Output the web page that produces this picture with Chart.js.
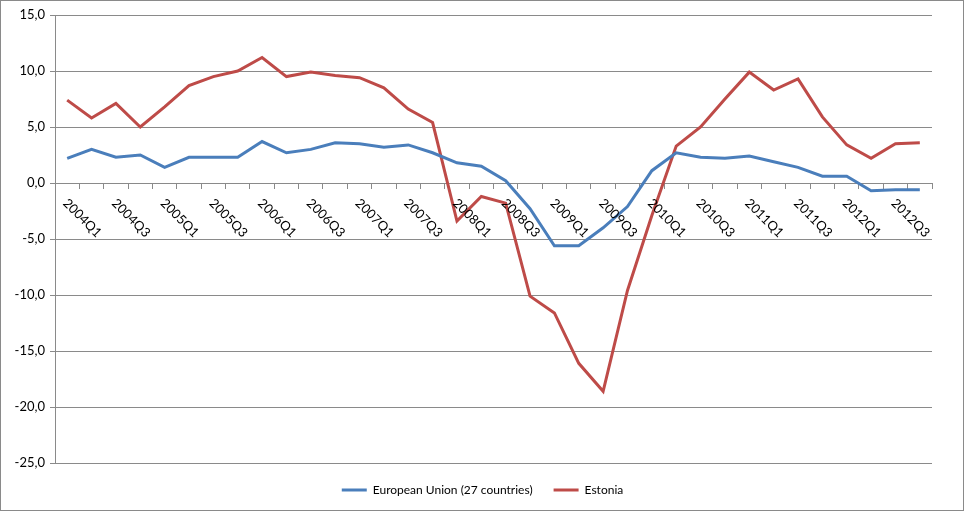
<!DOCTYPE html>
<html>
<head>
<meta charset="utf-8">
<script src="https://cdn.jsdelivr.net/npm/chart.js@4"></script>
<style>
  html, body { margin: 0; padding: 0; background: #fff; }
  #wrap { position: relative; width: 965px; height: 512px; }
</style>
</head>
<body>
<div id="wrap"><canvas id="myChart" width="965" height="512"></canvas></div>
<script>
// Trimestres 2004Q1 .. 2012Q4
var quarters = [
  '2004Q1','2004Q2','2004Q3','2004Q4','2005Q1','2005Q2','2005Q3','2005Q4',
  '2006Q1','2006Q2','2006Q3','2006Q4','2007Q1','2007Q2','2007Q3','2007Q4',
  '2008Q1','2008Q2','2008Q3','2008Q4','2009Q1','2009Q2','2009Q3','2009Q4',
  '2010Q1','2010Q2','2010Q3','2010Q4','2011Q1','2011Q2','2011Q3','2011Q4',
  '2012Q1','2012Q2','2012Q3','2012Q4'
];

var euValues = [2.2, 3.0, 2.3, 2.5, 1.4, 2.3, 2.3, 2.3, 3.7, 2.7, 3.0, 3.6,
  3.5, 3.2, 3.4, 2.7, 1.8, 1.5, 0.2, -2.3, -5.6, -5.6, -4.0, -2.1,
  1.1, 2.7, 2.3, 2.2, 2.4, 1.9, 1.4, 0.6, 0.6, -0.7, -0.6, -0.6];

var estoniaValues = [7.4, 5.8, 7.1, 5.0, 6.8, 8.7, 9.5, 10.0, 11.2, 9.5, 9.9, 9.6,
  9.4, 8.5, 6.6, 5.4, -3.4, -1.2, -1.8, -10.1, -11.6, -16.1, -18.6, -9.6,
  -2.9, 3.3, 5.0, 7.5, 9.9, 8.3, 9.3, 5.9, 3.4, 2.2, 3.5, 3.6];

var seriesNames = ['European Union (27 countries)', 'Estonia'];
var yMin = -25, yMax = 15, yStep = 5;

var fontFamily = 'Lato, "Open Sans", sans-serif';
var gridColor = '#8a8a8a';

// Etiquetas del eje x giradas 45 grados (cada dos trimestres) y marco exterior
var xLabelPlugin = {
  id: 'xLabels',
  afterDraw: function (chart) {
    var ctx = chart.ctx;
    var x = chart.scales.x;
    var y = chart.scales.y;
    var y0 = y.getPixelForValue(0);
    ctx.save();
    ctx.font = '13px ' + fontFamily;
    ctx.fillStyle = '#000';
    ctx.textAlign = 'left';
    ctx.textBaseline = 'middle';
    quarters.forEach(function (q, i) {
      if (i % 2) return;
      var px = x.getPixelForValue(i);
      ctx.save();
      ctx.translate(px - 2, y0 + 18);
      ctx.rotate(Math.PI / 4);
      ctx.fillText(q, 0, 0);
      ctx.restore();
    });
    ctx.strokeStyle = '#8a8a8a';
    ctx.lineWidth = 1;
    ctx.strokeRect(0.5, 0.5, 963, 510);
    ctx.restore();
  }
};

var ctx = document.getElementById('myChart').getContext('2d');
var myChart = new Chart(ctx, {
  type: 'line',
  data: {
    labels: quarters,
    datasets: [{
      label: seriesNames[0],
      data: euValues,
      borderColor: '#4a7ebb',
      backgroundColor: '#4a7ebb',
      borderWidth: 3,
      pointRadius: 0,
      tension: 0
    }, {
      label: seriesNames[1],
      data: estoniaValues,
      borderColor: '#be4b48',
      backgroundColor: '#be4b48',
      borderWidth: 3,
      pointRadius: 0,
      tension: 0
    }]
  },
  options: {
    responsive: false,
    animation: false,
    events: [],
    layout: { padding: { left: 0, right: 0, top: 15, bottom: 6 } },
    plugins: {
      tooltip: { enabled: false },
      legend: {
        position: 'bottom',
        labels: {
          boxWidth: 25,
          boxHeight: 3,
          padding: 21,
          color: '#000',
          font: { family: fontFamily, size: 12 },
          generateLabels: function (chart) {
            return chart.data.datasets.map(function (ds, i) {
              return {
                text: ds.label,
                fillStyle: ds.borderColor,
                strokeStyle: ds.borderColor,
                lineWidth: 0,
                hidden: false,
                datasetIndex: i
              };
            });
          }
        }
      }
    },
    scales: {
      x: {
        type: 'category',
        position: { y: 0 },
        offset: true,
        grid: {
          offset: true,
          drawOnChartArea: false,
          drawTicks: true,
          tickLength: 5,
          color: gridColor
        },
        border: { display: true, color: gridColor },
        ticks: { display: false, autoSkip: false }
      },
      y: {
        min: yMin,
        max: yMax,
        afterFit: function (scale) { scale.width = 55; },
        ticks: {
          stepSize: yStep,
          padding: 5,
          color: '#000',
          font: { family: fontFamily, size: 13 },
          callback: function (v) { return v.toFixed(1).replace('.', ','); }
        },
        grid: { color: gridColor, tickLength: 5 },
        border: { display: true, color: gridColor }
      },
      // eje vacío a la derecha, solo reserva el margen
      yRight: {
        position: 'right',
        grid: { display: false, drawTicks: false },
        border: { display: false },
        ticks: { display: false },
        afterFit: function (scale) { scale.width = 33; }
      }
    }
  },
  plugins: [xLabelPlugin]
});
</script>
</body>
</html>
